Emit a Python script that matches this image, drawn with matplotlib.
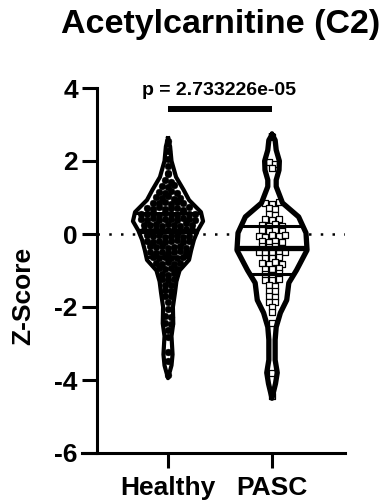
import numpy as np
import matplotlib
matplotlib.use("Agg")
import matplotlib.pyplot as plt

plt.rcParams["font.family"] = ["Liberation Sans", "DejaVu Sans"]
plt.rcParams["font.weight"] = "bold"
plt.rcParams["axes.unicode_minus"] = False

# --- data ---
groups = ["Healthy", "PASC"]
title = "Acetylcarnitine (C2)"
p_label = "p = 2.733226e-05"
y_ticks = [-6, -4, -2, 0, 2, 4]

healthy = [
    2.55, 2.28, 2.05, 1.86,
    1.68, 1.64,
    1.47, 1.43,
    1.31, 1.28, 1.33,
    1.16, 1.13, 1.18, 1.12,
    1.01, 0.98, 1.03, 0.97, 0.99,
    0.86, 0.84, 0.88, 0.83, 0.87, 0.85,
    0.71, 0.69, 0.73, 0.68, 0.72, 0.70, 0.67, 0.74,
    0.56, 0.54, 0.58, 0.53, 0.57, 0.55, 0.52, 0.59, 0.56, 0.54,
    0.41, 0.39, 0.43, 0.38, 0.42, 0.40, 0.37, 0.44, 0.41, 0.39,
    0.26, 0.24, 0.28, 0.23, 0.27, 0.25, 0.22, 0.29, 0.26,
    0.11, 0.09, 0.13, 0.08, 0.12, 0.10, 0.07, 0.14, 0.11,
    -0.04, -0.06, -0.03, -0.07, -0.05, -0.02, -0.08, -0.05,
    -0.19, -0.21, -0.18, -0.22, -0.20, -0.17, -0.23, -0.20,
    -0.34, -0.36, -0.33, -0.37, -0.35, -0.32, -0.38,
    -0.49, -0.51, -0.48, -0.52, -0.50, -0.47, -0.53,
    -0.64, -0.66, -0.63, -0.67, -0.65, -0.62,
    -0.79, -0.81, -0.78, -0.82, -0.80,
    -0.94, -0.96, -0.93, -0.97,
    -1.09, -1.11, -1.08,
    -1.24, -1.26, -1.23,
    -1.39, -1.41,
    -1.54, -1.56,
    -1.69, -1.71,
    -1.85,
    -2.05,
    -2.24, -2.27,
    -2.44, -2.47,
    -2.62,
    -2.81,
    -3.22,
    -3.48,
    -3.86,
]

pasc = [
    2.65,
    1.97, 1.93,
    1.80,
    0.86, 0.83, 0.88,
    0.71, 0.68,
    0.55, 0.52,
    0.40, 0.38, 0.42,
    0.25, 0.23, 0.27, 0.22,
    0.10, 0.08, 0.12, 0.07,
    -0.05, -0.07, -0.03, -0.06, -0.04,
    -0.20, -0.22, -0.18, -0.21,
    -0.34, -0.36, -0.33, -0.37,
    -0.50, -0.52, -0.48, -0.51, -0.49,
    -0.65, -0.67, -0.63,
    -0.80, -0.82, -0.78, -0.81,
    -0.95, -0.97, -0.93,
    -1.10, -1.12, -1.08,
    -1.25, -1.27, -1.23,
    -1.40, -1.42,
    -1.55, -1.57,
    -1.70, -1.72,
    -1.85, -1.87,
    -2.00,
    -2.15,
    -2.45,
    -3.80,
    -4.45,
]

# violin outlines: y level and relative half width
healthy_prof_y = [2.62, 2.4, 2.0, 1.56, 1.2, 0.93, 0.6, 0.35, 0.1, -0.16,
                  -0.45, -0.71, -1.0, -1.3, -1.6, -2.0, -2.45, -2.8, -3.3,
                  -3.6, -3.95]
healthy_prof_w = [0.0, 0.06, 0.1, 0.23, 0.45, 0.6, 0.94, 1.0, 0.85, 0.74,
                  0.66, 0.6, 0.33, 0.24, 0.2, 0.14, 0.15, 0.1, 0.13,
                  0.1, 0.0]
pasc_prof_y = [2.72, 2.57, 2.3, 2.0, 1.75, 1.48, 1.3, 0.85, 0.47, 0.03,
               -0.44, -0.99, -1.34, -1.81, -2.16, -2.55, -2.9, -3.45,
               -3.8, -4.1, -4.5]
pasc_prof_w = [0.0, 0.09, 0.12, 0.21, 0.2, 0.12, 0.12, 0.3, 0.76, 0.97,
               1.0, 0.7, 0.48, 0.42, 0.24, 0.12, 0.09, 0.09,
               0.15, 0.1, 0.0]


def swarm_x(vals, center, dx, row_h, row0):
    """Prism-like row layout: points sharing a row are spread sideways."""
    vals = np.asarray(vals, dtype=float)
    rows = np.round((vals - row0) / row_h).astype(int)
    xs = np.empty_like(vals)
    for r in np.unique(rows):
        idx = np.where(rows == r)[0]
        n = len(idx)
        xs[idx] = center + (np.arange(n) - (n - 1) / 2) * dx
    return xs


fig = plt.figure(figsize=(3.88, 5.04), dpi=100)
ax = fig.add_axes([82 / 388, 51 / 504, 263 / 388, 365 / 504])

x_left, x_right = -0.827, 1.702
x_spine = -0.683
half_w = 0.337

# dotted zero line
ax.plot([x_spine, x_right], [0, 0], color="k", lw=1.8,
        linestyle=(0, (1, 3.7)), zorder=0.5)

specs = [
    (0, healthy, healthy_prof_y, healthy_prof_w,
     dict(marker="o", s=24, facecolor="k", edgecolor="k", linewidths=0.3), 0.058, 3.0),
    (1, pasc, pasc_prof_y, pasc_prof_w,
     dict(marker="s", s=15, facecolor="white", edgecolor="k", linewidths=0.9), 0.064, 3.8),
]

for c, vals, py, pw, mk, dx, olw in specs:
    py = np.asarray(py)
    hw = np.asarray(pw) * half_w
    ax.fill_betweenx(py, c - hw, c + hw, facecolor="white", edgecolor="none", zorder=1)

    xs = swarm_x(vals, c, dx, 0.15, 0.1)
    ax.scatter(xs, vals, zorder=2, **mk)

    q1, med, q3 = np.percentile(vals, [25, 50, 75])
    order = np.argsort(py)
    for q, lw in [(q1, 2.2), (med, 3.8), (q3, 2.2)]:
        w = np.interp(q, py[order], hw[order])
        ax.plot([c - w, c + w], [q, q], color="k", lw=lw,
                solid_capstyle="butt", zorder=3)

    ox = np.r_[c - hw, (c + hw)[::-1]]
    oy = np.r_[py, py[::-1]]
    ax.plot(ox, oy, color="k", lw=olw, solid_joinstyle="round", zorder=4)

# significance bar + p value
ax.plot([0, 1], [3.42, 3.42], color="k", lw=4.3, solid_capstyle="butt",
        clip_on=False)
ax.text(0.49, 3.81, p_label, ha="center", va="baseline", fontsize=14,
        fontweight="bold", clip_on=False)

ax.set_xlim(x_left, x_right)
ax.set_ylim(-6, 4)
ax.set_yticks(y_ticks)
ax.set_xticks([0, 1])
ax.set_xticklabels(groups)

for side in ["top", "right"]:
    ax.spines[side].set_visible(False)
ax.spines["left"].set_position(("data", x_spine))
ax.spines["left"].set_linewidth(2.2)
ax.spines["bottom"].set_linewidth(2.2)
ax.tick_params(axis="y", length=10.8, width=2.2, labelsize=19, pad=3)
ax.tick_params(axis="x", length=10.8, width=2.2, labelsize=19, pad=6)

fig.text(23 / 388, 1 - 296 / 504, "Z-Score", rotation=90, ha="center",
         va="center", fontsize=19, fontweight="bold")
fig.text(221 / 388, 1 - 33 / 504, title, ha="center", va="baseline",
         fontsize=24.5, fontweight="bold")

fig.savefig("out.png", dpi=100)
